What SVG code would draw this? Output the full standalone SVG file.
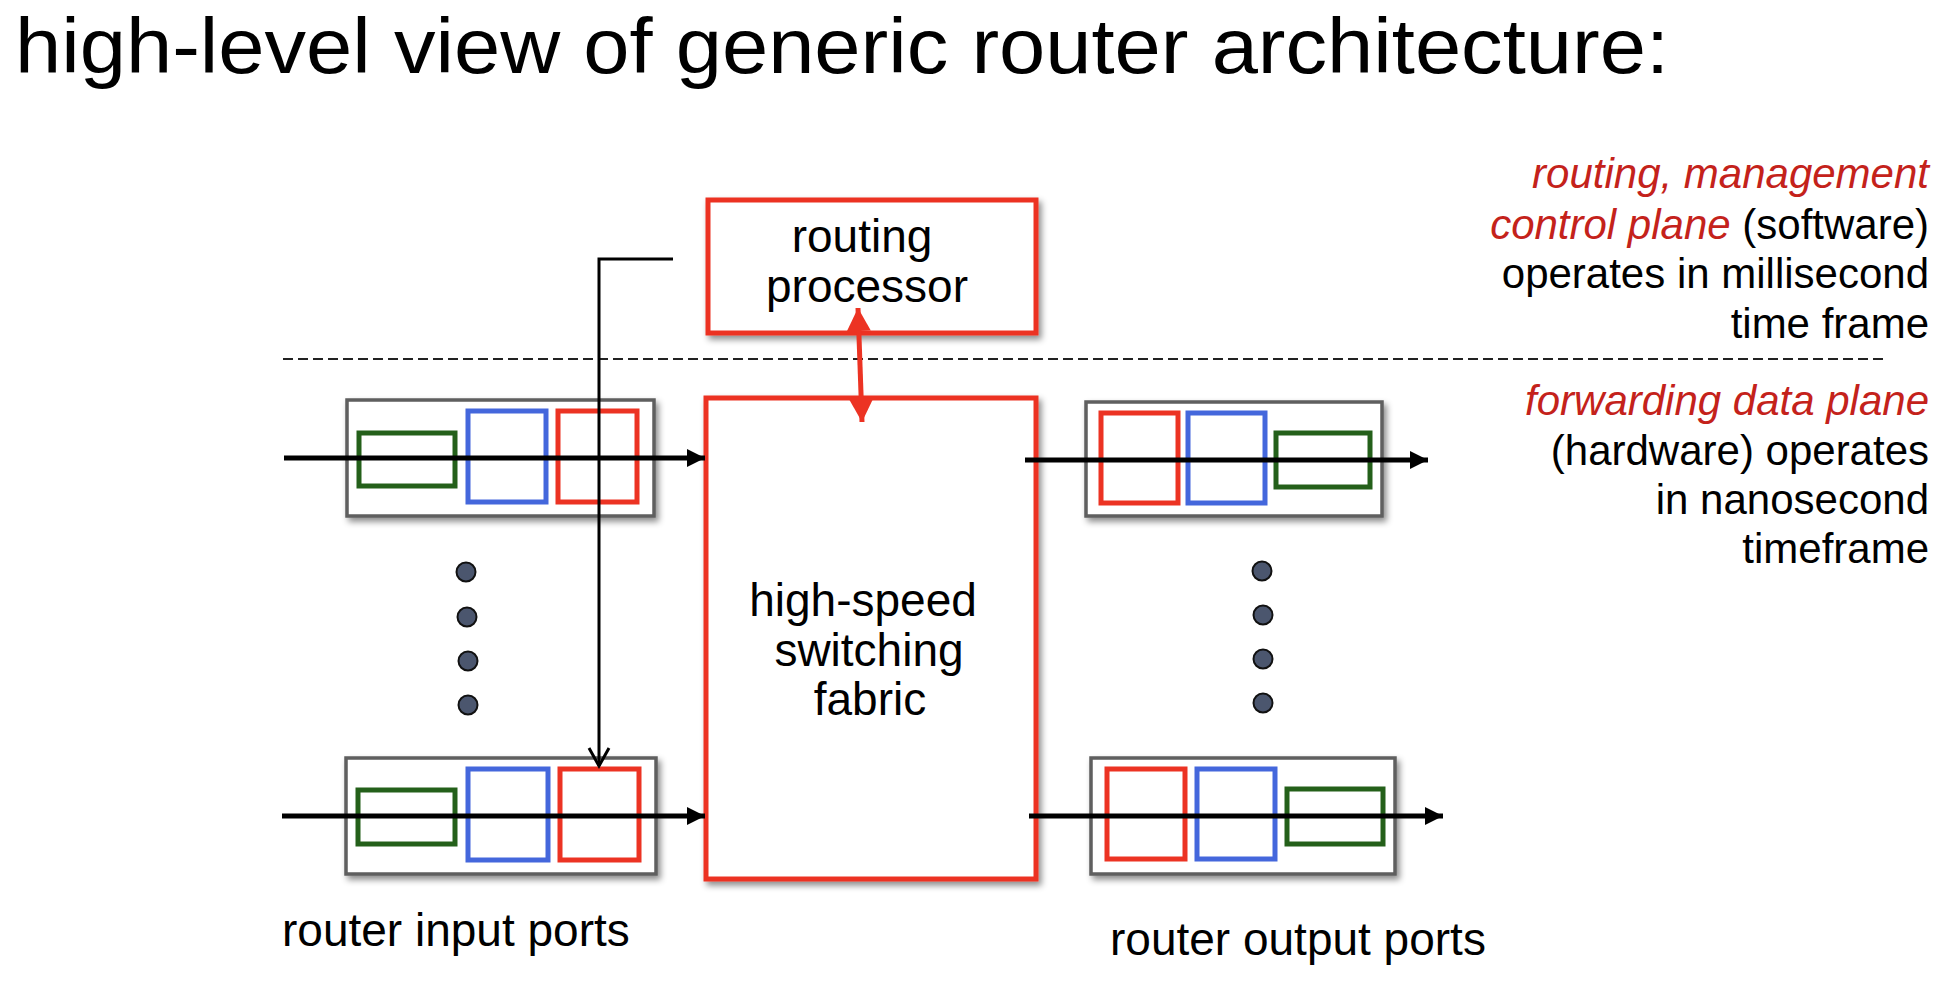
<svg xmlns="http://www.w3.org/2000/svg" width="1953" height="985" viewBox="0 0 1953 985">
  <style>
    text { font-family: "Liberation Sans", Arial, sans-serif; fill: #000; }
    .title { font-size: 78px; }
    .lbl { font-size: 46px; text-anchor: middle; }
    .cap { font-size: 46px; }
    .note { font-size: 42px; text-anchor: end; }
    .em { fill: #c4221b; font-style: italic; }
    .port { fill: #fff; stroke: #5e5e5e; stroke-width: 3.5; }
    .q-red { fill: none; stroke: #ec3323; stroke-width: 5; }
    .q-blue { fill: none; stroke: #4467dc; stroke-width: 5; }
    .q-green { fill: none; stroke: #24601a; stroke-width: 5; }
    .unit { fill: #fff; stroke: #ec3323; stroke-width: 5; }
    .flow { stroke: #000; stroke-width: 5; fill: none; marker-end: url(#head); }
    .ctrl { stroke: #000; stroke-width: 3; fill: none; }
    .dot { fill: #4b566e; stroke: #111; stroke-width: 2; }
  </style>
  <defs>
    <filter id="shadow" x="-10%" y="-10%" width="130%" height="130%">
      <feDropShadow dx="3" dy="4" stdDeviation="3" flood-color="#000" flood-opacity="0.45"/>
    </filter>
    <marker id="head" markerUnits="userSpaceOnUse" markerWidth="20" markerHeight="20" refX="18" refY="9" orient="auto">
      <path d="M0,0 L18,9 L0,18 z" fill="#000"/>
    </marker>
    <marker id="redhead" markerUnits="userSpaceOnUse" markerWidth="24" markerHeight="26" refX="23" refY="12" orient="auto-start-reverse">
      <path d="M0,0 L23,12 L0,24 z" fill="#ec3323"/>
    </marker>
  </defs>

  <rect width="1953" height="985" fill="#fff"/>

  <text class="title" x="15" y="73" textLength="1654" lengthAdjust="spacingAndGlyphs">high-level view of generic router architecture:</text>

  <!-- boundary between control plane and data plane -->
  <line x1="283" y1="359" x2="1887" y2="359" stroke="#222" stroke-width="2" stroke-dasharray="10,5"/>

  <!-- control plane -->
  <g id="routing-processor" filter="url(#shadow)">
    <rect class="unit" x="708" y="200" width="328" height="133"/>
  </g>
  <text class="lbl" x="862" y="252">routing</text>
  <text class="lbl" x="867" y="302">processor</text>

  <!-- switching fabric -->
  <g id="switching-fabric" filter="url(#shadow)">
    <rect class="unit" x="706" y="398" width="330" height="481"/>
  </g>
  <text class="lbl" x="863" y="616">high-speed</text>
  <text class="lbl" x="869" y="666">switching</text>
  <text class="lbl" x="870" y="715">fabric</text>

  <!-- input ports -->
  <g id="input-port-1">
    <rect class="port" x="347" y="400" width="307" height="116" filter="url(#shadow)"/>
    <rect class="q-green" x="359" y="433" width="96" height="53"/>
    <rect class="q-blue" x="468" y="411" width="78" height="91"/>
    <rect class="q-red" x="558" y="411" width="79" height="91"/>
  </g>
  <g id="input-port-n">
    <rect class="port" x="346" y="758" width="310" height="116" filter="url(#shadow)"/>
    <rect class="q-green" x="358" y="790" width="97" height="54"/>
    <rect class="q-blue" x="468" y="769" width="80" height="91"/>
    <rect class="q-red" x="560" y="769" width="79" height="91"/>
  </g>
  <g id="input-dots">
    <circle class="dot" cx="466" cy="572" r="9.5"/>
    <circle class="dot" cx="467" cy="617" r="9.5"/>
    <circle class="dot" cx="468" cy="661" r="9.5"/>
    <circle class="dot" cx="468" cy="705" r="9.5"/>
  </g>

  <!-- output ports -->
  <g id="output-port-1">
    <rect class="port" x="1086" y="402" width="296" height="114" filter="url(#shadow)"/>
    <rect class="q-red" x="1101" y="413" width="77" height="90"/>
    <rect class="q-blue" x="1188" y="413" width="77" height="90"/>
    <rect class="q-green" x="1276" y="433" width="94" height="54"/>
  </g>
  <g id="output-port-n">
    <rect class="port" x="1091" y="758" width="304" height="116" filter="url(#shadow)"/>
    <rect class="q-red" x="1107" y="769" width="78" height="90"/>
    <rect class="q-blue" x="1197" y="769" width="78" height="90"/>
    <rect class="q-green" x="1287" y="789" width="96" height="55"/>
  </g>
  <g id="output-dots">
    <circle class="dot" cx="1262" cy="571" r="9.5"/>
    <circle class="dot" cx="1263" cy="615" r="9.5"/>
    <circle class="dot" cx="1263" cy="659" r="9.5"/>
    <circle class="dot" cx="1263" cy="703" r="9.5"/>
  </g>

  <text class="cap" x="282" y="946">router input ports</text>
  <text class="cap" x="1110" y="955">router output ports</text>

  <!-- connectors -->
  <g id="connectors">
    <line class="flow" x1="284" y1="458" x2="705" y2="458"/>
    <line class="flow" x1="282" y1="816" x2="705" y2="816"/>
    <line class="flow" x1="1025" y1="460" x2="1428" y2="460"/>
    <line class="flow" x1="1029" y1="816" x2="1443" y2="816"/>
    <line x1="858" y1="308" x2="862" y2="422" stroke="#ec3323" stroke-width="5" marker-start="url(#redhead)" marker-end="url(#redhead)"/>
    <polyline class="ctrl" points="673,259 599,259 599,766"/>
    <polyline class="ctrl" points="589,748 599,766 609,748"/>
  </g>

  <!-- plane descriptions -->
  <g id="control-plane-note">
    <text class="note em" x="1929" y="188">routing, management</text>
    <text class="note" x="1929" y="239"><tspan class="em">control plane</tspan> (software)</text>
    <text class="note" x="1929" y="288">operates in millisecond</text>
    <text class="note" x="1929" y="338">time frame</text>
  </g>
  <g id="data-plane-note">
    <text class="note em" x="1929" y="415">forwarding data plane</text>
    <text class="note" x="1929" y="465">(hardware) operates</text>
    <text class="note" x="1929" y="514">in nanosecond</text>
    <text class="note" x="1929" y="563">timeframe</text>
  </g>
</svg>
